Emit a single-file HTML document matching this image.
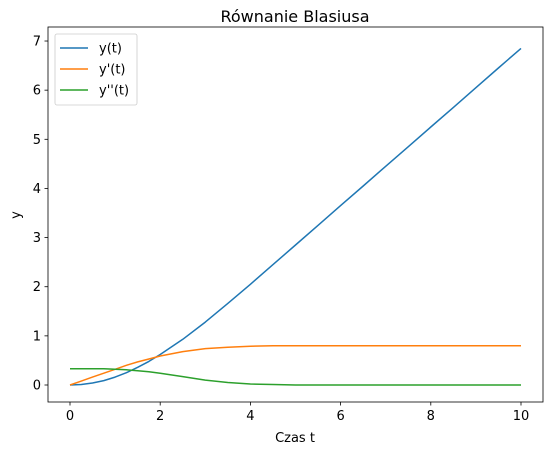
<!DOCTYPE html>
<html><head><meta charset="utf-8"><style>
body{margin:0;background:#fff;font-family:"Liberation Sans","DejaVu Sans",sans-serif}
text{font-family:"DejaVu Sans","Liberation Sans",sans-serif}
</style></head><body>
<svg id="c" width="554" height="455" xmlns="http://www.w3.org/2000/svg"></svg>
<script>
const tVals=[0,0.25,0.5,0.75,1,1.25,1.5,1.75,2,2.5,3,3.5,4,4.5,5,5.5,6,6.5,7,7.5,8,8.5,9,9.5,10];
const yVals=[0,0.01,0.04,0.09,0.16,0.25,0.36,0.48,0.62,0.93,1.28,1.66,2.05,2.45,2.85,3.25,3.65,4.05,4.45,4.85,5.25,5.65,6.05,6.45,6.85];
const ypVals=[0,0.08,0.16,0.24,0.32,0.40,0.47,0.53,0.59,0.68,0.74,0.77,0.79,0.80,0.80,0.80,0.80,0.80,0.80,0.80,0.80,0.80,0.80,0.80,0.80];
const yppVals=[0.33,0.33,0.33,0.33,0.32,0.31,0.29,0.27,0.24,0.17,0.10,0.05,0.02,0.01,0,0,0,0,0,0,0,0,0,0,0];
const xTicks=[0,2,4,6,8,10];
const yTicks=[0,1,2,3,4,5,6,7];
const seriesNames=["y(t)","y'(t)","y''(t)"];
const colors=["#1f77b4","#ff7f0e","#2ca02c"];
const NS="http://www.w3.org/2000/svg",svg=document.getElementById('c');
const L=48,R=543,T=27,B=402;
const X=v=>70+v*45.1, Y=v=>385-v*49.14;
function mk(tag,a,txt){const e=document.createElementNS(NS,tag);for(const k in a)e.setAttribute(k,a[k]);if(txt!==undefined)e.textContent=txt;svg.appendChild(e);return e;}
[yVals,ypVals,yppVals].forEach((s,i)=>{
 const p=mk('path',{d:s.map((v,j)=>(j?'L':'M')+X(tVals[j]).toFixed(1)+' '+Y(v).toFixed(1)).join(''),fill:'none',stroke:colors[i],'stroke-width':1.5,'stroke-linejoin':'round'});
 
 
});
const fr=mk('rect',{x:L,y:T,width:R-L,height:B-T,fill:'none',stroke:'#000','stroke-width':0.8});

xTicks.forEach(v=>{mk('line',{x1:X(v),x2:X(v),y1:B,y2:B+3.5,stroke:'#000','stroke-width':0.8});
 const t=mk('text',{x:X(v),y:B+18,'font-size':13,'text-anchor':'middle'},v);});
yTicks.forEach(v=>{mk('line',{x1:L-3.5,x2:L,y1:Y(v),y2:Y(v),stroke:'#000','stroke-width':0.8});
 const t=mk('text',{x:L-7,y:Y(v)+4.5,'font-size':13,'text-anchor':'end'},v);});
let e=mk('text',{x:295,y:22,'font-size':16,'text-anchor':'middle'},'Równanie Blasiusa');
e=mk('text',{x:295,y:442,'font-size':13,'text-anchor':'middle'},'Czas t');
e=mk('text',{x:20,y:215,'font-size':13,'text-anchor':'middle',transform:'rotate(-90 20 215)'},'y');
e=mk('rect',{x:55,y:34,width:82,height:71,rx:2,fill:'#fff',stroke:'#ccc','stroke-width':0.8});
seriesNames.forEach((n,i)=>{const yy=48+i*21;
 mk('line',{x1:60,x2:88,y1:yy,y2:yy,stroke:colors[i],'stroke-width':1.5});
 const t=mk('text',{x:99,y:yy+4.5,'font-size':13},n);});
</script>
</body></html>
